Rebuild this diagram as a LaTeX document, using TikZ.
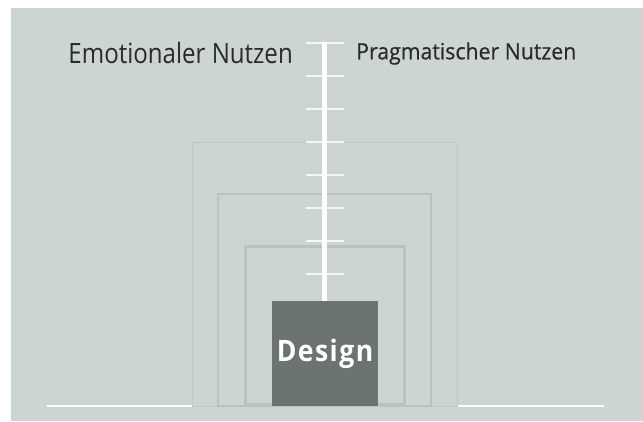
\documentclass[tikz,border=0pt]{standalone}
\usepackage{fontspec}
\setmainfont[FakeStretch=0.86]{Open Sans}
\newfontfamily\pragfont[FakeStretch=0.95,FakeBold=0.6]{Open Sans}
\newfontfamily\corefont[FakeStretch=0.9,LetterSpace=5]{Open Sans}

\definecolor{bg}{HTML}{CCD5D2}
\definecolor{frame}{HTML}{B8C2BF}
\definecolor{core}{HTML}{6B7471}
\definecolor{ink}{HTML}{2B2B2B}

\tikzset{
  frame/.style={draw=frame},
  tick/.style={white!80!bg,line width=1.5},
  label/.style={inner sep=0pt,text=ink}
}

\begin{document}
\begin{tikzpicture}[x=1pt,y=-1pt]
        \useasboundingbox (0,0) rectangle (643,421);
        \fill[bg] (11,8) rectangle (643,421);

        % ground line
        \draw[white,line width=1.5] (47,406) -- (192,406);
        \draw[white,line width=1.5] (458,406) -- (604,406);

        % nested frames around the core
        \draw[frame,draw=frame!70!bg,line width=1] (192,142) rectangle (457,406);
        \draw[frame,line width=2] (218,193.5) rectangle (431,406);
        \draw[frame,line width=3] (245,246) rectangle (404,404.5);

        % scale
        \foreach \y in {43,76,109,142,175,208,241,274}
            \draw[tick] (306,\y) -- (344,\y);

        \node[fill=core,inner sep=0pt,minimum width=106,minimum height=105.5,
              text=white,font=\corefont\bfseries\fontsize{29.5}{29.5}\selectfont] (design) at (325,353.5) {Design};
        \coordinate (top) at (324.5,41.5);
        \draw[white,line width=5] (top) -- (top |- design.north);

        \node[label,anchor=base east,font=\fontsize{28}{28}\selectfont] (emo) at (293,63.3) {Emotionaler Nutzen};
        \node[label,anchor=base west,font=\pragfont\fontsize{22.4}{22.4}\selectfont] (prag) at (356,59.3) {Pragmatischer Nutzen};
\end{tikzpicture}
\end{document}
